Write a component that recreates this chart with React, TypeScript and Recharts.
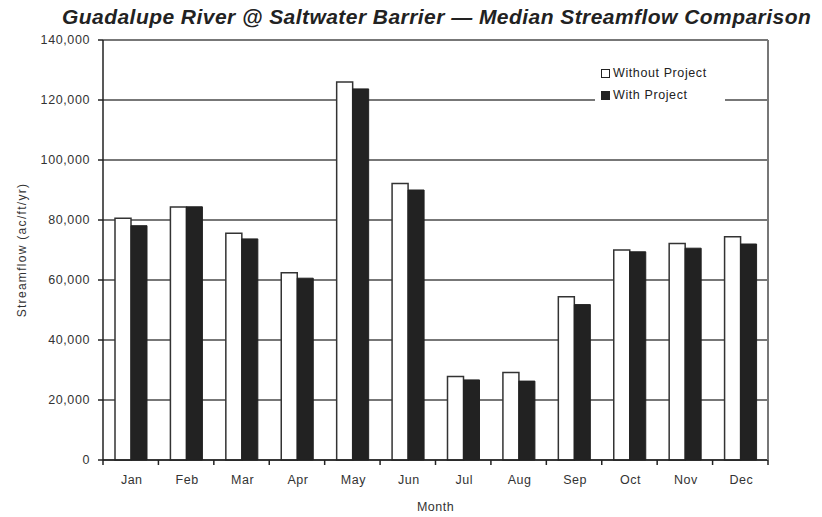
import React from "react";
import { BarChart, Bar, XAxis, YAxis, CartesianGrid } from "recharts";

const months = ["Jan", "Feb", "Mar", "Apr", "May", "Jun", "Jul", "Aug", "Sep", "Oct", "Nov", "Dec"];
const withoutProject = [80600, 84300, 75600, 62400, 126000, 92200, 27800, 29200, 54400, 70000, 72200, 74400];
const withProject = [78100, 84400, 73700, 60600, 123700, 90000, 26700, 26300, 51800, 69400, 70600, 72000];
const yTicks = [0, 20000, 40000, 60000, 80000, 100000, 120000, 140000];

const chartData = months.map((m, i) => ({
  month: m,
  without: withoutProject[i],
  with: withProject[i],
}));

const FONT = "'Liberation Sans', Arial, sans-serif";
const W = 822;
const H = 517;
const PLOT_LEFT = 103;
const PLOT_RIGHT = 768;
const BAND = (PLOT_RIGHT - PLOT_LEFT) / months.length;

function MonthTick(props: any) {
  const { x, y, payload } = props;
  return (
    <g>
      <line x1={x - BAND / 2} x2={x - BAND / 2} y1={y - 8} y2={y - 3} stroke="#222" strokeWidth={1.5} />
      {payload.index === months.length - 1 && (
        <line x1={x + BAND / 2} x2={x + BAND / 2} y1={y - 8} y2={y - 3} stroke="#222" strokeWidth={1.5} />
      )}
      <text
        x={x + 1}
        y={y + 16}
        textAnchor="middle"
        fontSize={12.5}
        letterSpacing={0.5}
        fill="#333"
        fontFamily={FONT}
      >
        {payload.value}
      </text>
    </g>
  );
}

function LegendBox() {
  const row = { display: "flex", alignItems: "center", height: 22 } as const;
  const sw = { width: 7, height: 7, border: "1.5px solid #222", marginRight: 3 };
  return (
    <div
      style={{
        position: "absolute",
        left: 595,
        top: 60,
        width: 130,
        background: "#fff",
        padding: "2px 6px",
        boxSizing: "border-box",
        fontFamily: FONT,
        fontSize: 12.5,
        letterSpacing: 0.6,
        color: "#222",
      }}
    >
      <div style={row}>
        <span style={{ ...sw, background: "#fff" }} />
        Without Project
      </div>
      <div style={row}>
        <span style={{ ...sw, background: "#222" }} />
        With Project
      </div>
    </div>
  );
}

export default function App() {
  return (
    <div style={{ position: "fixed", left: 0, top: 0, width: W, height: H, background: "#fff", overflow: "hidden" }}>
      <BarChart
        width={W}
        height={H}
        data={chartData}
        margin={{ top: 40, right: 0, left: 0, bottom: 0 }}
        barSize={16}
        barGap={0}
      >
        <CartesianGrid yAxisId="left" horizontal vertical={false} stroke="#4a4a4a" strokeWidth={1.6} />
        <XAxis
          dataKey="month"
          height={57}
          tickLine={false}
          axisLine={{ stroke: "#222", strokeWidth: 1.5 }}
          tick={<MonthTick />}
          interval={0}
          label={{
            value: "Month",
            position: "insideBottom",
            offset: 6,
            fontSize: 12.5,
            letterSpacing: 0.5,
            fill: "#333",
            fontFamily: FONT,
          }}
        />
        <YAxis
          yAxisId="left"
          width={PLOT_LEFT}
          domain={[0, 140000]}
          ticks={yTicks}
          interval={0}
          tickFormatter={(v: number) => v.toLocaleString("en-US")}
          tick={{ fontSize: 12.5, fill: "#333", fontFamily: FONT, letterSpacing: 0.6, dx: -6 }}
          tickSize={5}
          tickLine={{ stroke: "#222", strokeWidth: 1.5 }}
          axisLine={{ stroke: "#222", strokeWidth: 1.5 }}
          label={{
            value: "Streamflow (ac/ft/yr)",
            angle: -90,
            position: "insideLeft",
            offset: 22,
            style: { textAnchor: "middle", fontSize: 12, letterSpacing: 1.3, fill: "#333", fontFamily: FONT },
          }}
        />
        <YAxis
          yAxisId="right"
          orientation="right"
          width={W - PLOT_RIGHT}
          domain={[0, 140000]}
          tick={false}
          tickLine={false}
          axisLine={{ stroke: "#777", strokeWidth: 2 }}
        />
        <Bar
          yAxisId="left"
          dataKey="without"
          name="Without Project"
          fill="#fff"
          stroke="#333"
          strokeWidth={1.5}
          isAnimationActive={false}
        />
        <Bar
          yAxisId="left"
          dataKey="with"
          name="With Project"
          fill="#222"
          stroke="#222"
          strokeWidth={1}
          isAnimationActive={false}
        />
      </BarChart>
      <LegendBox />
      <div
        style={{
          position: "absolute",
          left: 62,
          top: 5,
          whiteSpace: "nowrap",
          fontFamily: FONT,
          fontWeight: "bold",
          fontStyle: "italic",
          fontSize: 21,
          letterSpacing: 0.45,
          color: "#222",
        }}
      >
        Guadalupe River @ Saltwater Barrier — Median Streamflow Comparison
      </div>
    </div>
  );
}
